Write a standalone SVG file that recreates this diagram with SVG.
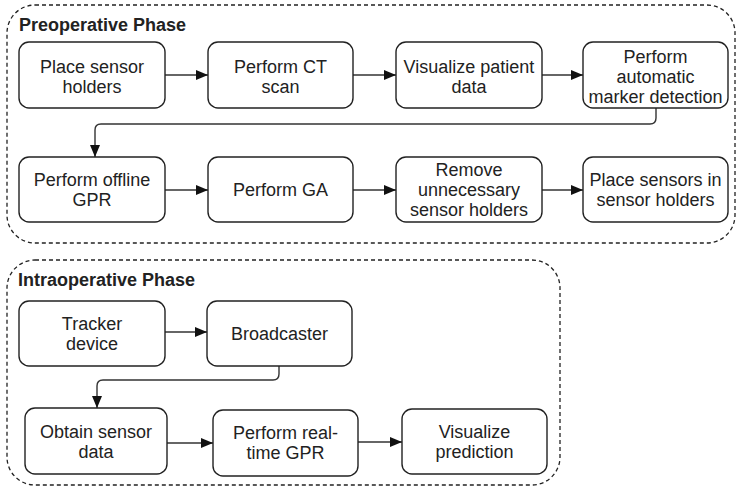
<svg xmlns="http://www.w3.org/2000/svg" width="738" height="488" viewBox="0 0 738 488">
<defs>
<marker id="arr" markerWidth="12" markerHeight="10" refX="12" refY="5" orient="auto" markerUnits="userSpaceOnUse">
<path d="M0,0 L12,5 L0,10 Z" fill="#111"/>
</marker>
<style>
.container{fill:none;stroke:#222;stroke-width:1.3;stroke-dasharray:4,3}
.box{fill:#fff;stroke:#222;stroke-width:1.4}
.t{font-family:"Liberation Sans",Arial,sans-serif;font-size:18px;fill:#222;text-anchor:middle}
.title{font-family:"Liberation Sans",Arial,sans-serif;font-size:18px;font-weight:bold;fill:#222}
.conn{fill:none;stroke:#333;stroke-width:1.4;marker-end:url(#arr)}
</style>
</defs>
<rect width="738" height="488" fill="#fff"/>

<g id="preoperative">
<rect class="container" x="7" y="5" width="728" height="238" rx="28"/>
<text class="title" x="19" y="31">Preoperative Phase</text>
</g>
<g id="intraoperative">
<rect class="container" x="7" y="260" width="553" height="225" rx="28"/>
<text class="title" x="18" y="286">Intraoperative Phase</text>
</g>

<g id="connectors">
<line class="conn" x1="165" y1="75" x2="208" y2="75"/>
<line class="conn" x1="353" y1="75" x2="396" y2="75"/>
<line class="conn" x1="542" y1="75" x2="583" y2="75"/>
<path class="conn" d="M656,108 V118 Q656,124 650,124 H101 Q95,124 95,130 V157"/>
<line class="conn" x1="165" y1="190" x2="208" y2="190"/>
<line class="conn" x1="353" y1="190" x2="396" y2="190"/>
<line class="conn" x1="542" y1="190" x2="583" y2="190"/>
<line class="conn" x1="165" y1="332" x2="207" y2="332"/>
<path class="conn" d="M279,366 V374 Q279,380 273,380 H103 Q97,380 97,386 V408"/>
<line class="conn" x1="167" y1="443" x2="213" y2="443"/>
<line class="conn" x1="358" y1="442" x2="402" y2="442"/>
</g>

<g id="n1"><rect class="box" x="19" y="42" width="146" height="66" rx="10"/>
<text class="t" x="92" y="73">Place sensor</text><text class="t" x="92" y="93">holders</text></g>
<g id="n2"><rect class="box" x="208" y="42" width="145" height="66" rx="10"/>
<text class="t" x="280.5" y="73">Perform CT</text><text class="t" x="280.5" y="93">scan</text></g>
<g id="n3"><rect class="box" x="396" y="42" width="146" height="66" rx="10"/>
<text class="t" x="469" y="73">Visualize patient</text><text class="t" x="469" y="93">data</text></g>
<g id="n4"><rect class="box" x="583" y="42" width="145" height="66" rx="10"/>
<text class="t" x="655.5" y="62.5">Perform</text><text class="t" x="655.5" y="82.5">automatic</text><text class="t" x="655.5" y="102.5">marker detection</text></g>

<g id="n5"><rect class="box" x="19" y="157" width="146" height="65" rx="10"/>
<text class="t" x="92" y="186">Perform offline</text><text class="t" x="92" y="206">GPR</text></g>
<g id="n6"><rect class="box" x="208" y="157" width="145" height="65" rx="10"/>
<text class="t" x="280.5" y="196">Perform GA</text></g>
<g id="n7"><rect class="box" x="396" y="157" width="146" height="65" rx="10"/>
<text class="t" x="469" y="176">Remove</text><text class="t" x="469" y="196">unnecessary</text><text class="t" x="469" y="216">sensor holders</text></g>
<g id="n8"><rect class="box" x="583" y="157" width="145" height="65" rx="10"/>
<text class="t" x="655.5" y="186">Place sensors in</text><text class="t" x="655.5" y="206">sensor holders</text></g>

<g id="n9"><rect class="box" x="19" y="301" width="146" height="65" rx="10"/>
<text class="t" x="92" y="330">Tracker</text><text class="t" x="92" y="350">device</text></g>
<g id="n10"><rect class="box" x="207" y="301" width="145" height="65" rx="10"/>
<text class="t" x="279.5" y="340">Broadcaster</text></g>
<g id="n11"><rect class="box" x="25" y="408" width="142" height="66" rx="10"/>
<text class="t" x="96" y="438">Obtain sensor</text><text class="t" x="96" y="458">data</text></g>
<g id="n12"><rect class="box" x="213" y="410" width="145" height="66" rx="10"/>
<text class="t" x="285.5" y="439">Perform real-</text><text class="t" x="285.5" y="459">time GPR</text></g>
<g id="n13"><rect class="box" x="402" y="409" width="145" height="65" rx="10"/>
<text class="t" x="474.5" y="438">Visualize</text><text class="t" x="474.5" y="458">prediction</text></g>
</svg>
